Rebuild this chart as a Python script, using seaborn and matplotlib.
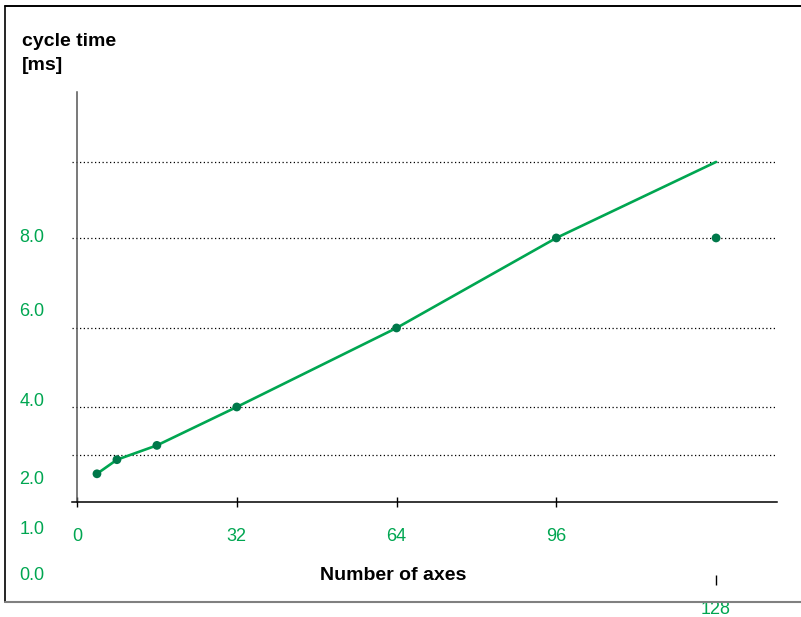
import numpy as np
import pandas as pd
import matplotlib
matplotlib.use("Agg")
import matplotlib.pyplot as plt
import seaborn as sns
from matplotlib.lines import Line2D

# chart values
axes_count = [4, 8, 16, 32, 64, 96, 128]
line_ms = [2.6, 2.9, 3.2, 4.0, 6.0, 8.0, 10.0]
point_ms = [2.6, 2.9, 3.2, 4.0, 6.0, 8.0, 8.0]
x_ticks = [0, 32, 64, 96]
x_tick_last = [128]
grid_ms = [3, 4, 6, 8, 10]
y_labels = ["8.0", "6.0", "4.0", "2.0", "1.0", "0.0"]

GREEN = "#00a651"
DOT = "#00784a"

sns.set_style("white")
plt.rcParams["font.family"] = ["Liberation Sans", "DejaVu Sans"]

data = pd.DataFrame({"axes": axes_count, "line": line_ms, "point": point_ms})

W, H = 801, 617
fig = plt.figure(figsize=(W / 100, H / 100), dpi=100)
ax = fig.add_axes([72 / W, (H - 502) / H, 705 / W, 410 / H])

# uneven vertical scale of the original drawing
scale_v = [0, 2, 3, 4, 6, 8, 10, 12, 20]
scale_h = [-94, 0, 47, 95, 174, 264, 340, 416, 720]
ax.set_yscale("function", functions=(lambda v: np.interp(v, scale_v, scale_h),
                                     lambda h: np.interp(h, scale_h, scale_v)))

sns.lineplot(x="axes", y="line", data=data, ax=ax, color=GREEN, linewidth=1.9)
sns.scatterplot(x="axes", y="point", data=data, ax=ax, color=DOT, s=40,
                edgecolor="none", zorder=3)

ax.set_xlim(-1, 140.2)
ax.set_ylim(2, 11.84)
ax.set_xlabel("")
ax.set_ylabel("")

ax.set_yticks(grid_ms)
ax.tick_params(axis="y", length=0, labelleft=False)
ax.grid(axis="y", color="black", linestyle=(0, (1, 2)), linewidth=0.9)
ax.grid(axis="x", visible=False)

ax.set_xticks(x_ticks)
ax.tick_params(axis="x", direction="inout", length=7, width=1, color="black",
               labelcolor=GREEN, labelsize=13, pad=15, bottom=True)

for s in ["top", "right"]:
    ax.spines[s].set_visible(False)
ax.spines["left"].set_position(("data", 0))
ax.spines["left"].set_color("#555555")
ax.spines["left"].set_linewidth(1.1)
ax.spines["bottom"].set_color("black")
ax.spines["bottom"].set_linewidth(1.1)

sec = ax.secondary_xaxis(-0.19)
sec.set_xticks(x_tick_last)
sec.spines["bottom"].set_visible(False)
sec.tick_params(axis="x", direction="inout", length=7, width=1, color="black",
                labelcolor=GREEN, labelsize=13, pad=11.5)

# y labels as placed in the original
y_label_px = [238, 311, 401, 479, 529, 575]
for lab, py in zip(y_labels, y_label_px):
    fig.text(32 / W, 1 - py / H, lab, color=GREEN, fontsize=13,
             ha="center", va="center")

fig.text(22 / W, 1 - 33 / H, "cycle time\n[ms]", fontsize=14, fontweight="bold",
         color="black", ha="left", va="top", linespacing=1.5)
fig.text(393 / W, 1 - 575 / H, "Number of axes", fontsize=14, fontweight="bold",
         color="black", ha="center", va="center")

# frame around the chart (open on the right)
fig.add_artist(Line2D([5 / W, 1], [1 - 6 / H, 1 - 6 / H], color="black", linewidth=1.4))
fig.add_artist(Line2D([5 / W, 5 / W], [1 - 6 / H, 1 - 602 / H], color="black", linewidth=1.2))
fig.add_artist(Line2D([5 / W, 1], [1 - 602 / H, 1 - 602 / H], color="#808080", linewidth=1.5))

fig.savefig("out.png", dpi=100)
